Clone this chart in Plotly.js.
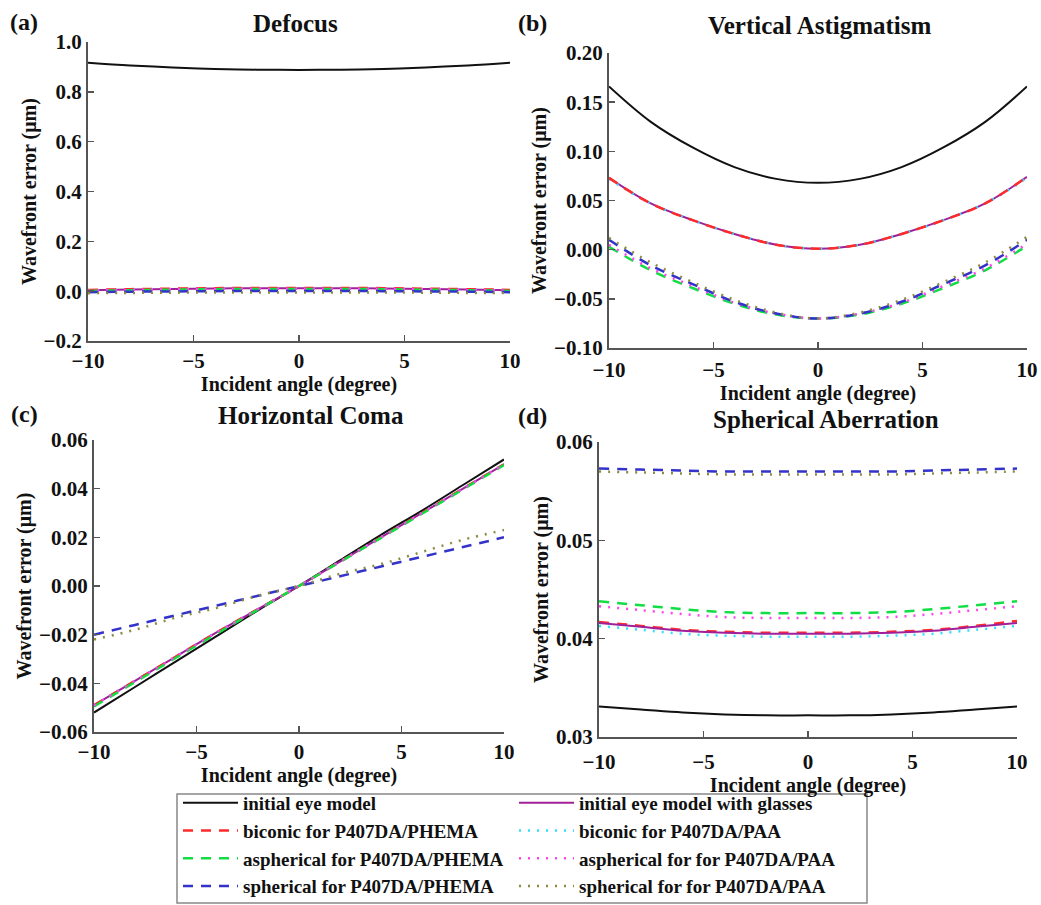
<!DOCTYPE html>
<html>
<head>
<meta charset="utf-8">
<script src="https://cdn.plot.ly/plotly-3.0.1.min.js"></script>
<style>html,body{margin:0;padding:0;background:#fff}#chart{width:1041px;height:905px}</style>
</head>
<body>
<div id="chart"></div>
<script>
// ---------- data ----------
const angles = [-10, -8, -6, -4, -2, 0, 2, 4, 6, 8, 10];

const seriesNames = [
  'initial eye model',
  'initial eye model with glasses',
  'biconic for P407DA/PHEMA',
  'biconic for P407DA/PAA',
  'aspherical for P407DA/PHEMA',
  'aspherical for for P407DA/PAA',
  'spherical for P407DA/PHEMA',
  'spherical for for P407DA/PAA'
];

const panelTitles = ['Defocus', 'Vertical Astigmatism', 'Horizontal Coma', 'Spherical Aberration'];
const panelLetters = ['(a)', '(b)', '(c)', '(d)'];
const xAxisTitle = 'Incident angle (degree)';
const yAxisTitle = 'Wavefront error (μm)';

// (a) Defocus
const defocusInitial      = [0.917, 0.906, 0.898, 0.892, 0.889, 0.888, 0.889, 0.892, 0.898, 0.906, 0.917];
const defocusGlasses      = [0.004, 0.007, 0.009, 0.011, 0.012, 0.012, 0.012, 0.011, 0.009, 0.007, 0.004];
const defocusBiconicPHEMA = [0.005, 0.008, 0.010, 0.012, 0.013, 0.013, 0.013, 0.012, 0.010, 0.008, 0.005];
const defocusBiconicPAA   = [0.003, 0.006, 0.008, 0.010, 0.011, 0.011, 0.011, 0.010, 0.008, 0.006, 0.003];
const defocusAsphPHEMA    = [0.001, 0.004, 0.006, 0.008, 0.009, 0.009, 0.009, 0.008, 0.006, 0.004, 0.001];
const defocusAsphPAA      = [0.002, 0.005, 0.007, 0.009, 0.010, 0.010, 0.010, 0.009, 0.007, 0.005, 0.002];
const defocusSphPHEMA     = [-0.004, -0.002, -0.001, 0.000, 0.001, 0.001, 0.001, 0.000, -0.001, -0.002, -0.004];
const defocusSphPAA       = [-0.008, -0.007, -0.006, -0.005, -0.005, -0.005, -0.005, -0.005, -0.006, -0.007, -0.008];

// (b) Vertical Astigmatism
const astigInitial      = [0.166, 0.130, 0.104, 0.084, 0.072, 0.068, 0.072, 0.084, 0.104, 0.130, 0.166];
const astigGlasses      = [0.073, 0.047, 0.030, 0.016, 0.005, 0.001, 0.005, 0.016, 0.030, 0.047, 0.074];
const astigBiconicPHEMA = [0.073, 0.047, 0.030, 0.016, 0.005, 0.001, 0.005, 0.016, 0.030, 0.047, 0.074];
const astigBiconicPAA   = [0.072, 0.047, 0.030, 0.016, 0.005, 0.001, 0.005, 0.016, 0.030, 0.047, 0.073];
const astigAsphPHEMA    = [0.003, -0.021, -0.039, -0.055, -0.066, -0.070, -0.066, -0.055, -0.039, -0.021, 0.004];
const astigAsphPAA      = [0.005, -0.019, -0.037, -0.054, -0.065, -0.070, -0.065, -0.054, -0.037, -0.019, 0.006];
const astigSphPHEMA     = [0.010, -0.016, -0.035, -0.053, -0.065, -0.070, -0.065, -0.053, -0.035, -0.016, 0.010];
const astigSphPAA       = [0.012, -0.013, -0.033, -0.051, -0.064, -0.070, -0.064, -0.051, -0.033, -0.013, 0.013];

// (c) Horizontal Coma
const comaInitial      = [-0.052, -0.0415, -0.031, -0.0205, -0.010, 0.000, 0.0105, 0.021, 0.031, 0.0415, 0.052];
const comaGlasses      = [-0.049, -0.039, -0.029, -0.019, -0.0095, 0.000, 0.010, 0.020, 0.030, 0.040, 0.050];
const comaBiconicPHEMA = [-0.049, -0.039, -0.029, -0.019, -0.0095, 0.000, 0.010, 0.020, 0.030, 0.040, 0.050];
const comaBiconicPAA   = [-0.049, -0.039, -0.029, -0.019, -0.0095, 0.000, 0.010, 0.020, 0.030, 0.040, 0.050];
const comaAsphPHEMA    = [-0.0495, -0.0395, -0.0295, -0.0195, -0.0097, 0.000, 0.0099, 0.0198, 0.0297, 0.0397, 0.0497];
const comaAsphPAA      = [-0.049, -0.039, -0.029, -0.019, -0.0095, 0.000, 0.010, 0.020, 0.030, 0.040, 0.050];
const comaSphPHEMA     = [-0.020, -0.016, -0.012, -0.008, -0.004, 0.000, 0.004, 0.008, 0.012, 0.016, 0.020];
const comaSphPAA       = [-0.022, -0.018, -0.013, -0.009, -0.004, 0.000, 0.005, 0.009, 0.014, 0.019, 0.023];

// (d) Spherical Aberration
const sphabInitial      = [0.0331, 0.0328, 0.0325, 0.0323, 0.0322, 0.0322, 0.0322, 0.0323, 0.0325, 0.0328, 0.0331];
const sphabGlasses      = [0.0416, 0.0412, 0.0408, 0.0406, 0.0405, 0.0405, 0.0405, 0.0406, 0.0408, 0.0412, 0.0416];
const sphabBiconicPHEMA = [0.0417, 0.0413, 0.0409, 0.0407, 0.0406, 0.0406, 0.0406, 0.0407, 0.0409, 0.0413, 0.0418];
const sphabBiconicPAA   = [0.0413, 0.0409, 0.0405, 0.0403, 0.0402, 0.0402, 0.0402, 0.0403, 0.0405, 0.0409, 0.0413];
const sphabAsphPHEMA    = [0.0438, 0.0434, 0.0430, 0.0427, 0.0426, 0.0426, 0.0426, 0.0427, 0.0430, 0.0434, 0.0438];
const sphabAsphPAA      = [0.0433, 0.0429, 0.0425, 0.0422, 0.0421, 0.0421, 0.0421, 0.0422, 0.0425, 0.0429, 0.0433];
const sphabSphPHEMA     = [0.0573, 0.0572, 0.0571, 0.0570, 0.0570, 0.0570, 0.0570, 0.0570, 0.0571, 0.0572, 0.0573];
const sphabSphPAA       = [0.0570, 0.0569, 0.0568, 0.0567, 0.0567, 0.0567, 0.0567, 0.0567, 0.0568, 0.0569, 0.0570];

// ---------- styles ----------
const FONT = '"Liberation Serif", "Times New Roman", serif';
const DASH = '10px,8px';
const DOT = '2px,7px';
const styles = [
  {color: '#111111', width: 2,   dash: 'solid', legend: 'legend'},
  {color: '#a0209a', width: 2,   dash: 'solid', legend: 'legend2'},
  {color: '#ff2a2a', width: 2.5, dash: DASH,    legend: 'legend'},
  {color: '#33ddff', width: 2.5, dash: DOT,     legend: 'legend2'},
  {color: '#11dd44', width: 2.5, dash: DASH,    legend: 'legend'},
  {color: '#ff44ee', width: 2.5, dash: DOT,     legend: 'legend2'},
  {color: '#3333cc', width: 2.5, dash: DASH,    legend: 'legend'},
  {color: '#8c8c40', width: 2.5, dash: DOT,     legend: 'legend2'}
];
// legend order stays fixed; drawing order per panel (which line sits on top)
const drawOrders = [
  [0, 1, 3, 2, 4, 5, 6, 7],
  [0, 1, 3, 2, 4, 5, 6, 7],
  [0, 1, 3, 2, 4, 5, 6, 7],
  [0, 3, 2, 1, 4, 5, 6, 7]
];

const panels = [
  [defocusInitial, defocusGlasses, defocusBiconicPHEMA, defocusBiconicPAA, defocusAsphPHEMA, defocusAsphPAA, defocusSphPHEMA, defocusSphPAA],
  [astigInitial, astigGlasses, astigBiconicPHEMA, astigBiconicPAA, astigAsphPHEMA, astigAsphPAA, astigSphPHEMA, astigSphPAA],
  [comaInitial, comaGlasses, comaBiconicPHEMA, comaBiconicPAA, comaAsphPHEMA, comaAsphPAA, comaSphPHEMA, comaSphPAA],
  [sphabInitial, sphabGlasses, sphabBiconicPHEMA, sphabBiconicPAA, sphabAsphPHEMA, sphabAsphPAA, sphabSphPHEMA, sphabSphPAA]
];

const W = 1041, H = 905;
// plot-area boxes in pixels: [left, right, top, bottom]
const boxes = [
  [88, 510, 42, 341],
  [609, 1027, 53, 348],
  [94, 504, 440, 732],
  [599, 1017, 442, 737]
];
const yRanges = [[-0.2, 1.0], [-0.10, 0.20], [-0.06, 0.06], [0.03, 0.06]];
const yDticks = [0.2, 0.05, 0.02, 0.01];
const yFormats = ['.1f', '.2f', '.2f', '.2f'];
const xStandoff = [0, 2, 0, 5];
const xTitleStandoff = [0, 0, 0, 1];

const traces = [];
panels.forEach((vals, p) => {
  drawOrders[p].forEach(i => {
    const s = styles[i];
    traces.push({
      x: angles, y: vals[i], type: 'scatter', mode: 'lines',
      name: seriesNames[i],
      xaxis: p === 0 ? 'x' : 'x' + (p + 1),
      yaxis: p === 0 ? 'y' : 'y' + (p + 1),
      line: {color: s.color, width: s.width, dash: s.dash, shape: 'spline', smoothing: 1},
      showlegend: p === 0,
      legend: s.legend,
      legendrank: i + 1
    });
  });
});

const layout = {
  width: W, height: H,
  margin: {l: 0, r: 0, t: 0, b: 0},
  paper_bgcolor: '#ffffff', plot_bgcolor: '#ffffff',
  font: {family: FONT, size: 20, color: '#111'},
  annotations: [], shapes: []
};

boxes.forEach((b, p) => {
  const xa = p === 0 ? 'xaxis' : 'xaxis' + (p + 1);
  const ya = p === 0 ? 'yaxis' : 'yaxis' + (p + 1);
  const yref = p === 0 ? 'x' : 'x' + (p + 1);
  layout[xa] = {
    domain: [b[0] / W, b[1] / W], anchor: p === 0 ? 'y' : 'y' + (p + 1),
    range: [-10, 10], dtick: 5, tick0: 0,
    showgrid: false, zeroline: false,
    showline: true, linecolor: '#555', linewidth: 2,
    ticks: 'inside', ticklen: 6, tickwidth: 1.5, tickcolor: '#555',
    ticklabelstandoff: xStandoff[p],
    tickfont: {family: FONT, size: 21, color: '#111', weight: 'bold'},
    title: {text: '<b>' + xAxisTitle + '</b>', font: {family: FONT, size: 20, color: '#111'}, standoff: xTitleStandoff[p]},
    automargin: false, fixedrange: true
  };
  layout[ya] = {
    domain: [1 - b[3] / H, 1 - b[2] / H], anchor: yref,
    range: yRanges[p], dtick: yDticks[p], tick0: 0, tickformat: yFormats[p],
    showgrid: false, zeroline: false,
    showline: true, linecolor: '#555', linewidth: 2,
    ticks: 'inside', ticklen: 6, tickwidth: 1.5, tickcolor: '#555',
    tickfont: {family: FONT, size: 21, color: '#111', weight: 'bold'},
    title: {text: '<b>' + yAxisTitle + '</b>', font: {family: FONT, size: 20, color: '#111'}, standoff: 2},
    automargin: false, fixedrange: true
  };
});

const titlePos = [[295, 23], [820, 25], [311, 415], [826, 419]];
const letterPos = [[24, 22], [532, 23], [24, 414], [532, 416]];
panelTitles.forEach((t, p) => {
  layout.annotations.push({
    text: '<b>' + t + '</b>', xref: 'paper', yref: 'paper',
    x: titlePos[p][0] / W, y: 1 - titlePos[p][1] / H, xanchor: 'center', yanchor: 'middle',
    showarrow: false, font: {family: FONT, size: 25, color: '#111'}
  });
  layout.annotations.push({
    text: '<b>' + panelLetters[p] + '</b>', xref: 'paper', yref: 'paper',
    x: letterPos[p][0] / W, y: 1 - letterPos[p][1] / H, xanchor: 'center', yanchor: 'middle',
    showarrow: false, font: {family: FONT, size: 24, color: '#111'}
  });
});

// legend frame
layout.shapes.push({
  type: 'rect', xref: 'paper', yref: 'paper',
  x0: 177 / W, x1: 867 / W, y0: 1 - 903 / H, y1: 1 - 794 / H,
  line: {color: '#888', width: 1.5}, fillcolor: 'rgba(0,0,0,0)', layer: 'above'
});

const legendCommon = {
  orientation: 'v', bgcolor: 'rgba(0,0,0,0)', borderwidth: 0,
  font: {family: FONT, size: 19, color: '#111', weight: 'bold'},
  xanchor: 'left', yanchor: 'bottom', yref: 'paper', xref: 'paper',
  itemwidth: 55, tracegroupgap: 0, itemclick: false, itemdoubleclick: false,
  traceorder: 'normal'
};
layout.legend = Object.assign({}, legendCommon, {x: 178 / W, y: 0});
layout.legend2 = Object.assign({}, legendCommon, {x: 514 / W, y: 0});

Plotly.newPlot('chart', traces, layout, {staticPlot: true, displayModeBar: false});
</script>
</body>
</html>
